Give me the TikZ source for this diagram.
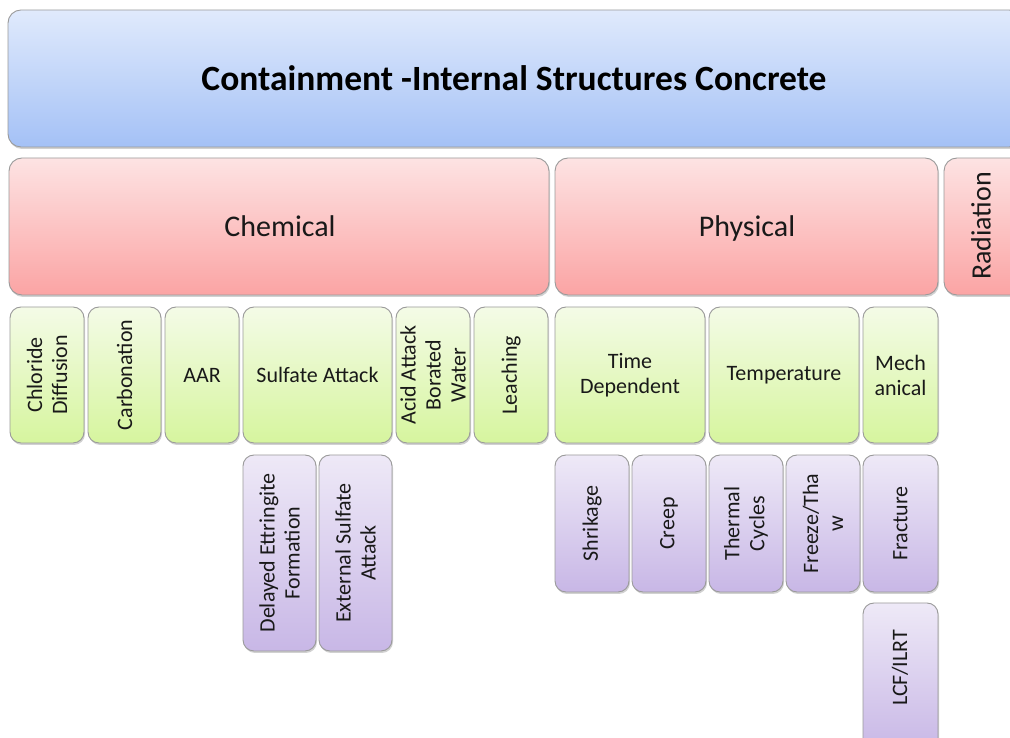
\documentclass[tikz,border=0pt]{standalone}
\usepackage{fontspec}
\setmainfont{Carlito}
\usetikzlibrary{shadows}
\definecolor{bluetop}{HTML}{E0EAFC}
\definecolor{bluebot}{HTML}{A4C1F6}
\definecolor{redtop}{HTML}{FDE3E3}
\definecolor{redbot}{HTML}{FBA4A4}
\definecolor{greentop}{HTML}{F4FBE7}
\definecolor{greenbot}{HTML}{D6F59E}
\definecolor{purptop}{HTML}{EEE9F7}
\definecolor{purpbot}{HTML}{C8B7E6}
\definecolor{edgegray}{HTML}{9A9A9A}
\tikzset{
  boxbase/.style={draw=edgegray, line width=0.9pt, rounded corners=11pt, inner sep=0pt, outer sep=0pt,
    drop shadow={shadow xshift=1pt, shadow yshift=-2pt, opacity=0.3, fill=black!60}},
  bluebox/.style={boxbase, top color=bluetop, bottom color=bluebot, rounded corners=13pt},
  redbox/.style={boxbase, top color=redtop, bottom color=redbot, rounded corners=13pt},
  greenbox/.style={boxbase, top color=greentop, bottom color=greenbot},
  purpbox/.style={boxbase, top color=purptop, bottom color=purpbot},
  small/.style={font=\fontsize{22}{25}\selectfont, align=center, inner sep=0pt, text=black!90},
  big/.style={font=\fontsize{30}{33}\selectfont, align=center, inner sep=0pt, text=black!90},
  titletext/.style={font=\fontsize{35.5}{38}\selectfont\bfseries, align=center, inner sep=0pt}
}
% style, name, x1, ytop, x2, ybot (pixel coordinates)
\newcommand\bx[6]{\node[#1, anchor=north west, minimum width={(#5-#3)*1pt}, minimum height={(#6-#4)*1pt}] (#2) at ({#3*1pt},{(738-#4)*1pt}) {};}
\begin{document}
\begin{tikzpicture}
\useasboundingbox (0,0) rectangle (1010pt,738pt);
\clip (0,0) rectangle (1010pt,738pt);
% top
\bx{bluebox}{top}{8}{10}{1022}{147}
\node[titletext] (toptext) at (514pt,{(738-78)*1pt}) {Containment -Internal Structures Concrete};
% level 1
\bx{redbox}{chem}{9}{158}{549}{295}
\node[big, anchor=base] (chemt) at (280pt,{(738-237)*1pt}) {Chemical};
\bx{redbox}{phys}{555}{158}{938}{295}
\node[big, anchor=base] (physt) at (747pt,{(738-237)*1pt}) {Physical};
\bx{redbox}{rad}{944}{158}{1024}{295}
\node[big, rotate=90, font=\fontsize{28}{30}\selectfont] (radt) at (981pt,{(738-226)*1pt}) {Radiation};
% level 2
\bx{greenbox}{chl}{10}{307}{84}{443}
\node[small, rotate=90] (chlt) at (chl.center) {Chloride\\Diffusion};
\bx{greenbox}{carb}{88}{307}{161}{443}
\node[small, rotate=90] (carbt) at (carb.center) {Carbonation};
\bx{greenbox}{aar}{165}{307}{239}{443}
\node[small] (aart) at (aar.center) {AAR};
\bx{greenbox}{sulf}{243}{307}{392}{443}
\node[small] (sulft) at (sulf.center) {Sulfate Attack};
\bx{greenbox}{acid}{396}{307}{470}{443}
\node[small, rotate=90] (acidt) at (acid.center) {Acid Attack\\Borated\\Water};
\bx{greenbox}{leach}{474}{307}{548}{443}
\node[small, rotate=90] (leacht) at (leach.center) {Leaching};
\bx{greenbox}{time}{555}{307}{705}{443}
\node[small] (timet) at (time.center) {Time\\Dependent};
\bx{greenbox}{temp}{709}{307}{859}{443}
\node[small] (tempt) at (temp.center) {Temperature};
\bx{greenbox}{mech}{863}{307}{938}{443}
\node[small] (mecht) at (mech.center) {Mech\\anical};
% level 3
\bx{purpbox}{def}{243}{455}{316}{651}
\node[small, rotate=90] (deft) at (def.center) {Delayed Ettringite\\Formation};
\bx{purpbox}{esa}{319}{455}{392}{651}
\node[small, rotate=90] (esat) at (esa.center) {External Sulfate\\Attack};
\bx{purpbox}{shr}{555}{455}{629}{592}
\node[small, rotate=90] (shrt) at (shr.center) {Shrikage};
\bx{purpbox}{creep}{632}{455}{706}{592}
\node[small, rotate=90] (creept) at (creep.center) {Creep};
\bx{purpbox}{therm}{709}{455}{783}{592}
\node[small, rotate=90] (thermt) at (therm.center) {Thermal\\Cycles};
\bx{purpbox}{frz}{786}{455}{860}{592}
\node[small, rotate=90] (frzt) at (frz.center) {Freeze/Tha\\w};
\bx{purpbox}{frac}{863}{455}{938}{592}
\node[small, rotate=90] (fract) at (frac.center) {Fracture};
\bx{purpbox}{lcf}{863}{603}{938}{752}
\node[small, rotate=90] (lcft) at (900pt,{(738-668)*1pt}) {LCF/ILRT};
\end{tikzpicture}
\end{document}
